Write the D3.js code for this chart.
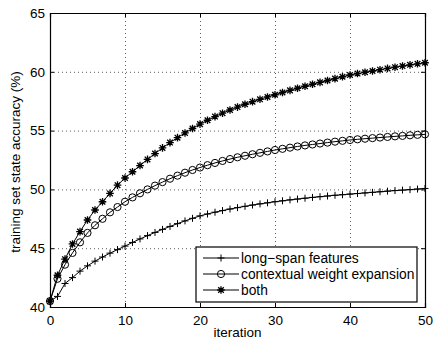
<!DOCTYPE html>
<html>
<head>
<meta charset="utf-8">
<script src="https://cdn.jsdelivr.net/npm/d3@7"></script>
<style>
  body { margin: 0; background: #fff; }
  text { font-family: "Liberation Sans", Arial, sans-serif; fill: #000; }
</style>
</head>
<body>
<div id="viz"></div>
<script>
var width = 436;
var height = 341;
var margin = {top: 13, right: 10, bottom: 34, left: 50};

// iterations 0..50
var iterations = d3.range(0, 51);

var longSpan = [40.5, 40.9, 42.0, 42.5, 43.05, 43.5, 43.9, 44.25, 44.58, 44.88,
  45.18, 45.49, 45.79, 46.07, 46.34, 46.6, 46.85, 47.09, 47.32, 47.54,
  47.75, 47.91, 48.06, 48.2, 48.33, 48.45, 48.56, 48.67, 48.77, 48.86,
  48.95, 49.03, 49.11, 49.18, 49.25, 49.32, 49.38, 49.44, 49.5, 49.55,
  49.6, 49.65, 49.7, 49.75, 49.8, 49.85, 49.9, 49.94, 49.98, 50.03, 50.08];

var contextual = [40.5, 42.4, 43.6, 44.6, 45.5, 46.3, 46.95, 47.5, 48.05, 48.5,
  48.95, 49.32, 49.67, 50.0, 50.32, 50.62, 50.91, 51.17, 51.42, 51.65,
  51.86, 52.06, 52.25, 52.42, 52.58, 52.73, 52.86, 52.99, 53.11, 53.23,
  53.35, 53.45, 53.55, 53.65, 53.74, 53.82, 53.9, 53.98, 54.06, 54.13,
  54.2, 54.26, 54.31, 54.36, 54.41, 54.46, 54.51, 54.55, 54.6, 54.64, 54.68];

var both = [40.5, 42.7, 44.07, 45.36, 46.41, 47.4, 48.25, 48.95, 49.66, 50.36,
  50.97, 51.5, 52.03, 52.55, 53.05, 53.53, 53.98, 54.4, 54.8, 55.18,
  55.55, 55.88, 56.19, 56.48, 56.75, 57.0, 57.24, 57.46, 57.66, 57.86,
  58.05, 58.24, 58.42, 58.6, 58.77, 58.94, 59.1, 59.26, 59.42, 59.58,
  59.73, 59.85, 59.96, 60.07, 60.18, 60.29, 60.39, 60.49, 60.59, 60.68, 60.77];

var seriesNames = ['long\u2212span features', 'contextual weight expansion', 'both'];
var markerTypes = ['plus', 'circle', 'star'];
var xTicks = [0, 10, 20, 30, 40, 50];
var yTicks = [40, 45, 50, 55, 60, 65];

var svg = d3.select('#viz').append('svg')
  .attr('width', width)
  .attr('height', height);

var g = svg.append('g')
  .attr('transform', 'translate(' + margin.left + ',' + margin.top + ')');

var xScale = d3.scaleLinear().domain([0, 50]).range([0, 375]);
var yScale = d3.scaleLinear().domain([40, 65]).range([294, 0]);
var w = xScale(50), h = yScale(40);

// dotted grid
g.append('g').selectAll('line').data(xTicks.slice(1, -1))
  .enter().append('line')
  .attr('x1', d => xScale(d) + 0.5).attr('x2', d => xScale(d) + 0.5)
  .attr('y1', 0).attr('y2', h)
  .attr('stroke', '#333').attr('stroke-width', 0.8)
  .attr('stroke-dasharray', '1,3');
g.append('g').selectAll('line').data(yTicks.slice(1, -1))
  .enter().append('line')
  .attr('y1', d => yScale(d) + 0.5).attr('y2', d => yScale(d) + 0.5)
  .attr('x1', 0).attr('x2', w)
  .attr('stroke', '#333').attr('stroke-width', 0.8)
  .attr('stroke-dasharray', '1,3');

// axes, ticks pointing inward (matlab style)
var xAxis = d3.axisBottom(xScale).tickValues(xTicks).tickSize(-4).tickPadding(8);
var yAxis = d3.axisLeft(yScale).tickValues(yTicks).tickSize(-4).tickPadding(5);
var xAxisTop = d3.axisTop(xScale).tickValues(xTicks).tickSize(-4).tickFormat('');
var yAxisRight = d3.axisRight(yScale).tickValues(yTicks).tickSize(-4).tickFormat('');

g.append('g').attr('transform', 'translate(0,' + h + ')').call(xAxis);
g.append('g').call(yAxis);
g.append('g').call(xAxisTop);
g.append('g').attr('transform', 'translate(' + w + ',0)').call(yAxisRight);

g.selectAll('.domain').attr('stroke', '#000').attr('stroke-width', 1.2);
g.selectAll('.tick line').attr('stroke', '#000');
g.selectAll('.tick text').style('font-size', '13.5px').style('font-family', '"Liberation Sans", Arial, sans-serif');

// axis labels
svg.append('text')
  .attr('x', margin.left + w / 2)
  .attr('y', 337)
  .attr('text-anchor', 'middle')
  .style('font-size', '13.5px')
  .text('iteration');

svg.append('text')
  .attr('transform', 'translate(20,' + (margin.top + h / 2 + 2) + ') rotate(-90)')
  .attr('text-anchor', 'middle')
  .style('font-size', '13.5px')
  .text('training set state accuracy (%)');

function drawMarker(sel, type) {
  if (type === 'plus') {
    sel.append('path').attr('d', 'M-3.5,0H3.5M0,-3.5V3.5')
      .attr('stroke', '#000').attr('stroke-width', 1).attr('fill', 'none');
  } else if (type === 'circle') {
    sel.append('circle').attr('r', 3.6)
      .attr('stroke', '#000').attr('stroke-width', 1).attr('fill', 'none');
  } else {
    sel.append('path').attr('d', 'M-3.8,0H3.8M0,-3.8V3.8M-2.8,-2.8L2.8,2.8M-2.8,2.8L2.8,-2.8')
      .attr('stroke', '#000').attr('stroke-width', 1.3).attr('fill', 'none');
  }
}

var line = d3.line()
  .x((d, i) => xScale(iterations[i]))
  .y(d => yScale(d));

[longSpan, contextual, both].forEach(function(data, k) {
  g.append('path')
    .datum(data)
    .attr('d', line)
    .attr('fill', 'none')
    .attr('stroke', '#000')
    .attr('stroke-width', 1);

  g.append('g').selectAll('g').data(data)
    .enter().append('g')
    .attr('transform', (d, i) => 'translate(' + xScale(iterations[i]) + ',' + yScale(d) + ')')
    .each(function() { drawMarker(d3.select(this), markerTypes[k]); });
});

// legend
var legend = svg.append('g').attr('transform', 'translate(196,247)');
legend.append('rect')
  .attr('width', 221).attr('height', 55)
  .attr('fill', '#fff').attr('stroke', '#000').attr('stroke-width', 1.2);

seriesNames.forEach(function(name, k) {
  var ly = 11 + k * 16;
  legend.append('line')
    .attr('x1', 7).attr('x2', 43).attr('y1', ly).attr('y2', ly)
    .attr('stroke', '#000').attr('stroke-width', 1);
  var m = legend.append('g').attr('transform', 'translate(25,' + ly + ')');
  drawMarker(m, markerTypes[k]);
  legend.append('text')
    .attr('x', 45).attr('y', ly + 5)
    .style('font-size', '13.8px')
    .text(name);
});
</script>
</body>
</html>
